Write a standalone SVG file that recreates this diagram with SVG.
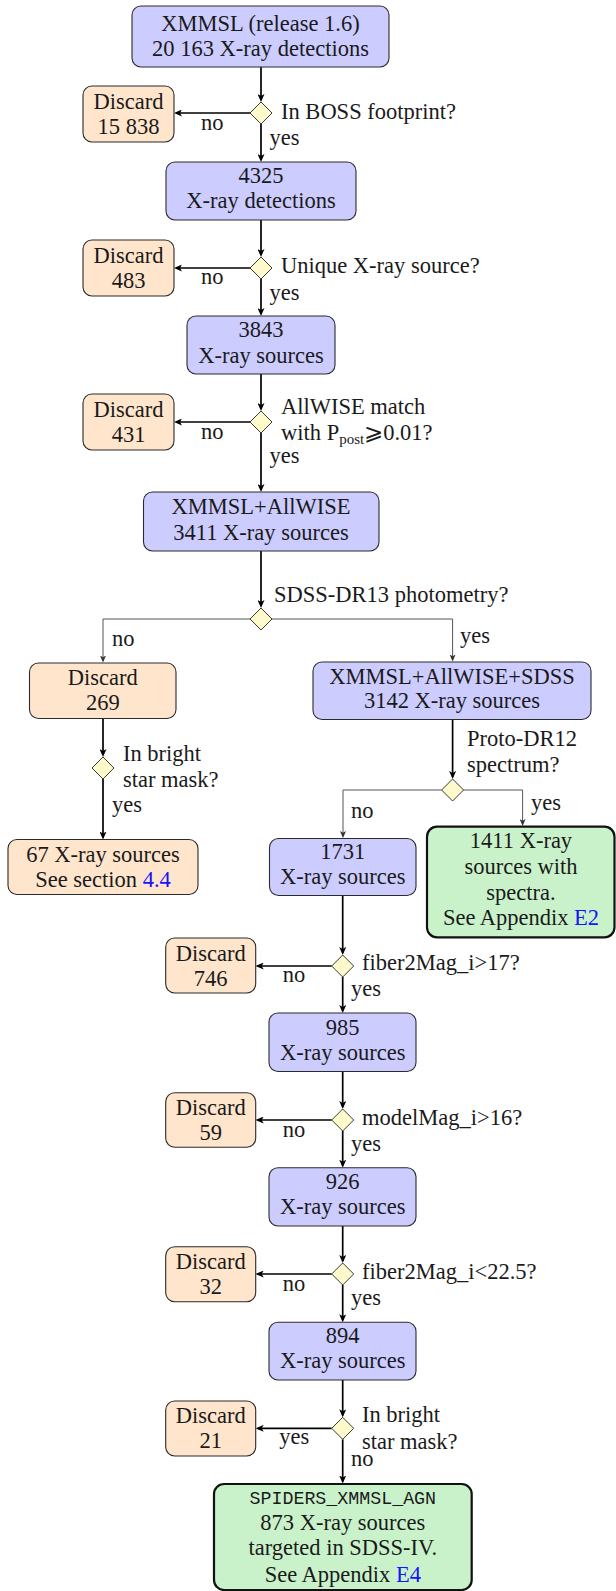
<svg xmlns="http://www.w3.org/2000/svg" width="616" height="1591" viewBox="0 0 616 1591">
<defs>
<style>
text{font-family:"Liberation Serif","DejaVu Serif",serif;font-size:22.5px;fill:#1a1a1a}
.c{text-anchor:middle}
.m{font-family:"Liberation Mono","DejaVu Sans Mono",monospace;font-size:18.3px}
.lk{fill:#1414ff}
.sub{font-size:15px}
.blue{fill:#ccccff;stroke:#2b2b2b;stroke-width:1.1}
.orange{fill:#ffe5cc;stroke:#2b2b2b;stroke-width:1.1}
.green{fill:#c9f2cb;stroke:#111;stroke-width:2.2}
.dia{fill:#fffacc;stroke:#222;stroke-width:0.9}
.main{fill:none;stroke:#000;stroke-width:1.7}
.thin{fill:none;stroke:#555;stroke-width:1}
</style>
<marker id="ah" viewBox="0 0 8 7" refX="6" refY="3.5" markerWidth="8" markerHeight="7" markerUnits="userSpaceOnUse" orient="auto">
<path d="M0,0 L8,3.5 L0,7 L2,3.5 z" fill="#000"/>
</marker>
<marker id="ahs" viewBox="0 0 7 6" refX="5.5" refY="3" markerWidth="7" markerHeight="6" markerUnits="userSpaceOnUse" orient="auto">
<path d="M0,0 L7,3 L0,6 L1.8,3 z" fill="#333"/>
</marker>
</defs>

<g id="connectors">
<path class="main" d="M261,67 V100" marker-end="url(#ah)"/>
<path class="main" d="M250,113 H176" marker-end="url(#ah)"/>
<path class="main" d="M261,124 V160" marker-end="url(#ah)"/>
<path class="main" d="M261,220 V255" marker-end="url(#ah)"/>
<path class="main" d="M250,268 H176" marker-end="url(#ah)"/>
<path class="main" d="M261,279 V314" marker-end="url(#ah)"/>
<path class="main" d="M261,374 V409" marker-end="url(#ah)"/>
<path class="main" d="M250,422 H176" marker-end="url(#ah)"/>
<path class="main" d="M261,433 V490" marker-end="url(#ah)"/>
<path class="main" d="M261,551 V606" marker-end="url(#ah)"/>
<path class="thin" d="M250,619 H103 V661" marker-end="url(#ahs)"/>
<path class="thin" d="M272,619 H452.6 V660" marker-end="url(#ahs)"/>
<path class="main" d="M103,718.5 V755" marker-end="url(#ah)"/>
<path class="main" d="M103,779 V837.5" marker-end="url(#ah)"/>
<path class="main" d="M452.6,719.5 V777" marker-end="url(#ah)"/>
<path class="thin" d="M441.6,790 H343 V836.5" marker-end="url(#ahs)"/>
<path class="thin" d="M463.6,790 H522.6 V824.5" marker-end="url(#ahs)"/>
<path class="main" d="M342.7,895.5 V953" marker-end="url(#ah)"/>
<path class="main" d="M331.7,966 H257.7" marker-end="url(#ah)"/>
<path class="main" d="M342.7,977 V1011" marker-end="url(#ah)"/>
<path class="main" d="M342.7,1071.5 V1107" marker-end="url(#ah)"/>
<path class="main" d="M331.7,1120 H257.7" marker-end="url(#ah)"/>
<path class="main" d="M342.7,1131 V1165.7" marker-end="url(#ah)"/>
<path class="main" d="M342.7,1226 V1261" marker-end="url(#ah)"/>
<path class="main" d="M331.7,1274 H257.7" marker-end="url(#ah)"/>
<path class="main" d="M342.7,1285 V1320.3" marker-end="url(#ah)"/>
<path class="main" d="M342.7,1380 V1415.3" marker-end="url(#ah)"/>
<path class="main" d="M331.7,1428.3 H257.7" marker-end="url(#ah)"/>
<path class="main" d="M342.7,1439.3 V1481.5" marker-end="url(#ah)"/>
</g>

<g id="labels">
<text x="281" y="119">In BOSS footprint?</text>
<text x="201" y="130">no</text>
<text x="269.5" y="145">yes</text>
<text x="281" y="273.3">Unique X-ray source?</text>
<text x="201" y="284.3">no</text>
<text x="269.5" y="300">yes</text>
<text x="281" y="414">AllWISE match</text>
<text x="281" y="440">with P<tspan class="sub" dy="4">post</tspan><tspan dy="-4">⩾0.01?</tspan></text>
<text x="201" y="439.3">no</text>
<text x="269.5" y="463">yes</text>
<text x="274" y="601.7">SDSS-DR13 photometry?</text>
<text x="112" y="645.7">no</text>
<text x="460" y="643.3">yes</text>
<text x="123" y="761">In bright</text>
<text x="123" y="787">star mask?</text>
<text x="112" y="812">yes</text>
<text x="467" y="746">Proto-DR12</text>
<text x="467" y="771.7">spectrum?</text>
<text x="351" y="818.3">no</text>
<text x="531" y="810">yes</text>
<text x="362" y="970">fiber2Mag_i&gt;17?</text>
<text x="282.7" y="981.7">no</text>
<text x="351" y="996">yes</text>
<text x="362" y="1125">modelMag_i&gt;16?</text>
<text x="282.7" y="1136.7">no</text>
<text x="351" y="1150.7">yes</text>
<text x="362" y="1279">fiber2Mag_i&lt;22.5?</text>
<text x="282.7" y="1290.7">no</text>
<text x="351" y="1305">yes</text>
<text x="362" y="1422.2">In bright</text>
<text x="362" y="1448.6">star mask?</text>
<text x="279.3" y="1444">yes</text>
<text x="351" y="1466">no</text>
</g>

<g id="n1"><rect class="blue" x="132" y="6" width="257" height="61" rx="9"/>
<text class="c" x="260.5" y="30.5">XMMSL (release 1.6)</text>
<text class="c" x="260.5" y="56">20 163 X-ray detections</text></g>
<g id="d1"><path class="dia" d="M261,102 L272,113 L261,124 L250,113 z"/></g>
<g id="x1"><rect class="orange" x="83" y="86" width="91" height="56" rx="9"/>
<text class="c" x="128.5" y="108.5">Discard</text>
<text class="c" x="128.5" y="133.5">15 838</text></g>

<g id="n2"><rect class="blue" x="166" y="162" width="190" height="58" rx="9"/>
<text class="c" x="261" y="182.7">4325</text>
<text class="c" x="261" y="208.3">X-ray detections</text></g>
<g id="d2"><path class="dia" d="M261,257 L272,268 L261,279 L250,268 z"/></g>
<g id="x2"><rect class="orange" x="83" y="240" width="91" height="56" rx="9"/>
<text class="c" x="128.5" y="262.7">Discard</text>
<text class="c" x="128.5" y="288.3">483</text></g>

<g id="n3"><rect class="blue" x="187" y="316" width="148" height="58" rx="9"/>
<text class="c" x="261" y="336.7">3843</text>
<text class="c" x="261" y="362.7">X-ray sources</text></g>
<g id="d3"><path class="dia" d="M261,411 L272,422 L261,433 L250,422 z"/></g>
<g id="x3"><rect class="orange" x="83" y="394" width="91" height="56" rx="9"/>
<text class="c" x="128.5" y="416.7">Discard</text>
<text class="c" x="128.5" y="441.7">431</text></g>

<g id="n4"><rect class="blue" x="143.5" y="492" width="235.5" height="59" rx="9"/>
<text class="c" x="261" y="514">XMMSL+AllWISE</text>
<text class="c" x="261" y="539.5">3411 X-ray sources</text></g>
<g id="d4"><path class="dia" d="M261,608 L272,619 L261,630 L250,619 z"/></g>

<g id="x4"><rect class="orange" x="29.5" y="663" width="146.5" height="55.5" rx="9"/>
<text class="c" x="102.75" y="684.5">Discard</text>
<text class="c" x="102.75" y="709.5">269</text></g>
<g id="n5"><rect class="blue" x="313" y="662" width="278" height="57.5" rx="9"/>
<text class="c" x="452" y="683.5">XMMSL+AllWISE+SDSS</text>
<text class="c" x="452" y="708">3142 X-ray sources</text></g>

<g id="d5"><path class="dia" d="M103,757 L114,768 L103,779 L92,768 z"/></g>
<g id="n6"><rect class="orange" x="8" y="839.5" width="190" height="55" rx="9"/>
<text class="c" x="103" y="861.5">67 X-ray sources</text>
<text class="c" x="103" y="886.5">See section <tspan class="lk">4.4</tspan></text></g>

<g id="d6"><path class="dia" d="M452.6,779 L463.6,790 L452.6,801 L441.6,790 z"/></g>
<g id="n7"><rect class="blue" x="269.5" y="838.5" width="146.5" height="57" rx="9"/>
<text class="c" x="342.7" y="858.5">1731</text>
<text class="c" x="342.7" y="884">X-ray sources</text></g>
<g id="n8"><rect class="green" x="427" y="826.7" width="187.5" height="110.6" rx="10"/>
<text class="c" x="521" y="848.3">1411 X-ray</text>
<text class="c" x="521" y="874">sources with</text>
<text class="c" x="521" y="900">spectra.</text>
<text class="c" x="521" y="925">See Appendix <tspan class="lk">E2</tspan></text></g>

<g id="d7"><path class="dia" d="M342.7,955 L353.7,966 L342.7,977 L331.7,966 z"/></g>
<g id="x5"><rect class="orange" x="165.7" y="938" width="90" height="55" rx="9"/>
<text class="c" x="210.7" y="960.5">Discard</text>
<text class="c" x="210.7" y="986">746</text></g>
<g id="n9"><rect class="blue" x="269" y="1013" width="147" height="58.5" rx="9"/>
<text class="c" x="342.7" y="1035">985</text>
<text class="c" x="342.7" y="1059.5">X-ray sources</text></g>

<g id="d8"><path class="dia" d="M342.7,1109 L353.7,1120 L342.7,1131 L331.7,1120 z"/></g>
<g id="x6"><rect class="orange" x="165.7" y="1092.7" width="90" height="54.6" rx="9"/>
<text class="c" x="210.7" y="1115">Discard</text>
<text class="c" x="210.7" y="1140">59</text></g>
<g id="n10"><rect class="blue" x="269" y="1167.7" width="147" height="58.3" rx="9"/>
<text class="c" x="342.7" y="1189.3">926</text>
<text class="c" x="342.7" y="1214">X-ray sources</text></g>

<g id="d9"><path class="dia" d="M342.7,1263 L353.7,1274 L342.7,1285 L331.7,1274 z"/></g>
<g id="x7"><rect class="orange" x="165.7" y="1246.7" width="90" height="55" rx="9"/>
<text class="c" x="210.7" y="1269.3">Discard</text>
<text class="c" x="210.7" y="1294">32</text></g>
<g id="n11"><rect class="blue" x="269" y="1322.3" width="147" height="57.7" rx="9"/>
<text class="c" x="342.7" y="1342.7">894</text>
<text class="c" x="342.7" y="1368.3">X-ray sources</text></g>

<g id="d10"><path class="dia" d="M342.7,1417.3 L353.7,1428.3 L342.7,1439.3 L331.7,1428.3 z"/></g>
<g id="x8"><rect class="orange" x="165.7" y="1401" width="90" height="55" rx="9"/>
<text class="c" x="210.7" y="1422.7">Discard</text>
<text class="c" x="210.7" y="1448.3">21</text></g>

<g id="n12"><rect class="green" x="214" y="1484" width="257.7" height="106" rx="10"/>
<text class="c m" x="342.8" y="1504.3">SPIDERS_XMMSL_AGN</text>
<text class="c" x="342.8" y="1530">873 X-ray sources</text>
<text class="c" x="342.8" y="1555">targeted in SDSS-IV.</text>
<text class="c" x="342.8" y="1581.7">See Appendix <tspan class="lk">E4</tspan></text></g>
</svg>
